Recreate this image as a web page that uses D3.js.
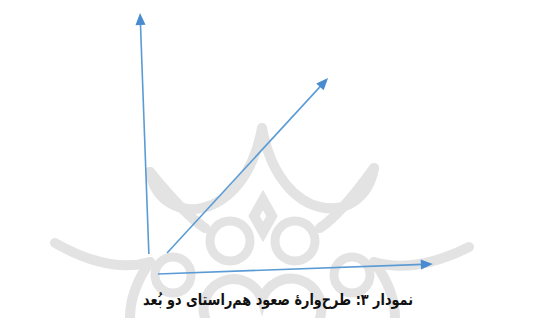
<!DOCTYPE html>
<html>
<head>
<meta charset="utf-8">
<script src="https://cdn.jsdelivr.net/npm/d3@7"></script>
<style>
  html, body { margin: 0; padding: 0; background: #fff; }
  svg { display: block; }
</style>
</head>
<body>
<div id="chart"></div>
<script>
var WIDTH = 558;
var HEIGHT = 318;

// arrows in axis units
var arrowNames = ["vertical", "horizontal", "diagonal"];
var arrowStart = [[-0.04, 0.32], [0.28, -0.48], [0.6, 0.36]];
var arrowEnd = [[-0.35, 10], [9.96, -0.08], [6.27, 7.39]];

var caption = "نمودار ۳: طرح\u200Cوارهٔ صعود هم\u200Cراستای دو بُعد";

var svg = d3.select("#chart").append("svg")
  .attr("width", WIDTH)
  .attr("height", HEIGHT);

var x = d3.scaleLinear().domain([0, 10]).range([150, 434]);
var y = d3.scaleLinear().domain([0, 10]).range([262, 13]);

// faint background watermark (decoration only)
var wm = svg.append("g")
  .attr("fill", "none")
  .attr("stroke", "#e3e3e3")
  .attr("stroke-width", 10)
  .attr("stroke-linecap", "round");

var wmPaths = [
  "M150,172 C160,228 244,226 262,128",
  "M262,128 C280,226 364,228 374,168",
  "M55,243 Q110,274 150,262",
  "M469,247 Q415,274 374,262",
  "M150,172 Q185,215 205,228",
  "M374,168 Q340,215 320,228",
  "M263,200 L272,216 L263,232 L254,216 Z",
  "M130,318 Q130,290 150,262",
  "M395,318 Q395,290 374,262",
  "M205,318 A28,28 0 0 1 262,300 A28,28 0 0 1 320,318"
];
wm.selectAll("path.wm").data(wmPaths).enter().append("path")
  .attr("class", "wm")
  .attr("d", function(d) { return d; });

var wmRings = [[230, 241, 20], [295, 241, 20], [173, 275, 18], [352, 275, 18]];
wm.selectAll("circle").data(wmRings).enter().append("circle")
  .attr("cx", function(d) { return d[0]; })
  .attr("cy", function(d) { return d[1]; })
  .attr("r", function(d) { return d[2]; })
  .attr("stroke-width", 9);

// arrows
var arrows = arrowNames.map(function(n, i) {
  return {name: n, x0: arrowStart[i][0], y0: arrowStart[i][1], x1: arrowEnd[i][0], y1: arrowEnd[i][1]};
});

var headLen = 12, headHalf = 5;

function unit(d) {
  var dx = x(d.x1) - x(d.x0), dy = y(d.y1) - y(d.y0), l = Math.sqrt(dx*dx + dy*dy);
  return [dx / l, dy / l];
}

var ag = svg.append("g");

ag.selectAll("line").data(arrows).enter().append("line")
  .attr("x1", function(d) { return x(d.x0); })
  .attr("y1", function(d) { return y(d.y0); })
  .attr("x2", function(d) { return x(d.x1) - unit(d)[0] * (headLen - 2); })
  .attr("y2", function(d) { return y(d.y1) - unit(d)[1] * (headLen - 2); })
  .attr("stroke", "#5b9bd5")
  .attr("stroke-width", 1.6);

ag.selectAll("path").data(arrows).enter().append("path")
  .attr("d", function(d) {
    var tx = x(d.x1), ty = y(d.y1);
    var u = unit(d), ux = u[0], uy = u[1];
    var bx = tx - ux * headLen, by = ty - uy * headLen;
    return "M" + tx + "," + ty +
      "L" + (bx - uy * headHalf) + "," + (by + ux * headHalf) +
      "L" + (bx + uy * headHalf) + "," + (by - ux * headHalf) + "Z";
  })
  .attr("fill", "#4a8ad0");

svg.append("text")
  .attr("x", 278)
  .attr("y", 305)
  .attr("text-anchor", "middle")
  .attr("direction", "rtl")
  .attr("textLength", 270)
  .attr("lengthAdjust", "spacingAndGlyphs")
  .style("font-family", "'DejaVu Sans', sans-serif")
  .style("font-weight", "bold")
  .style("font-size", "16px")
  .attr("fill", "#111")
  .text(caption);
</script>
</body>
</html>
